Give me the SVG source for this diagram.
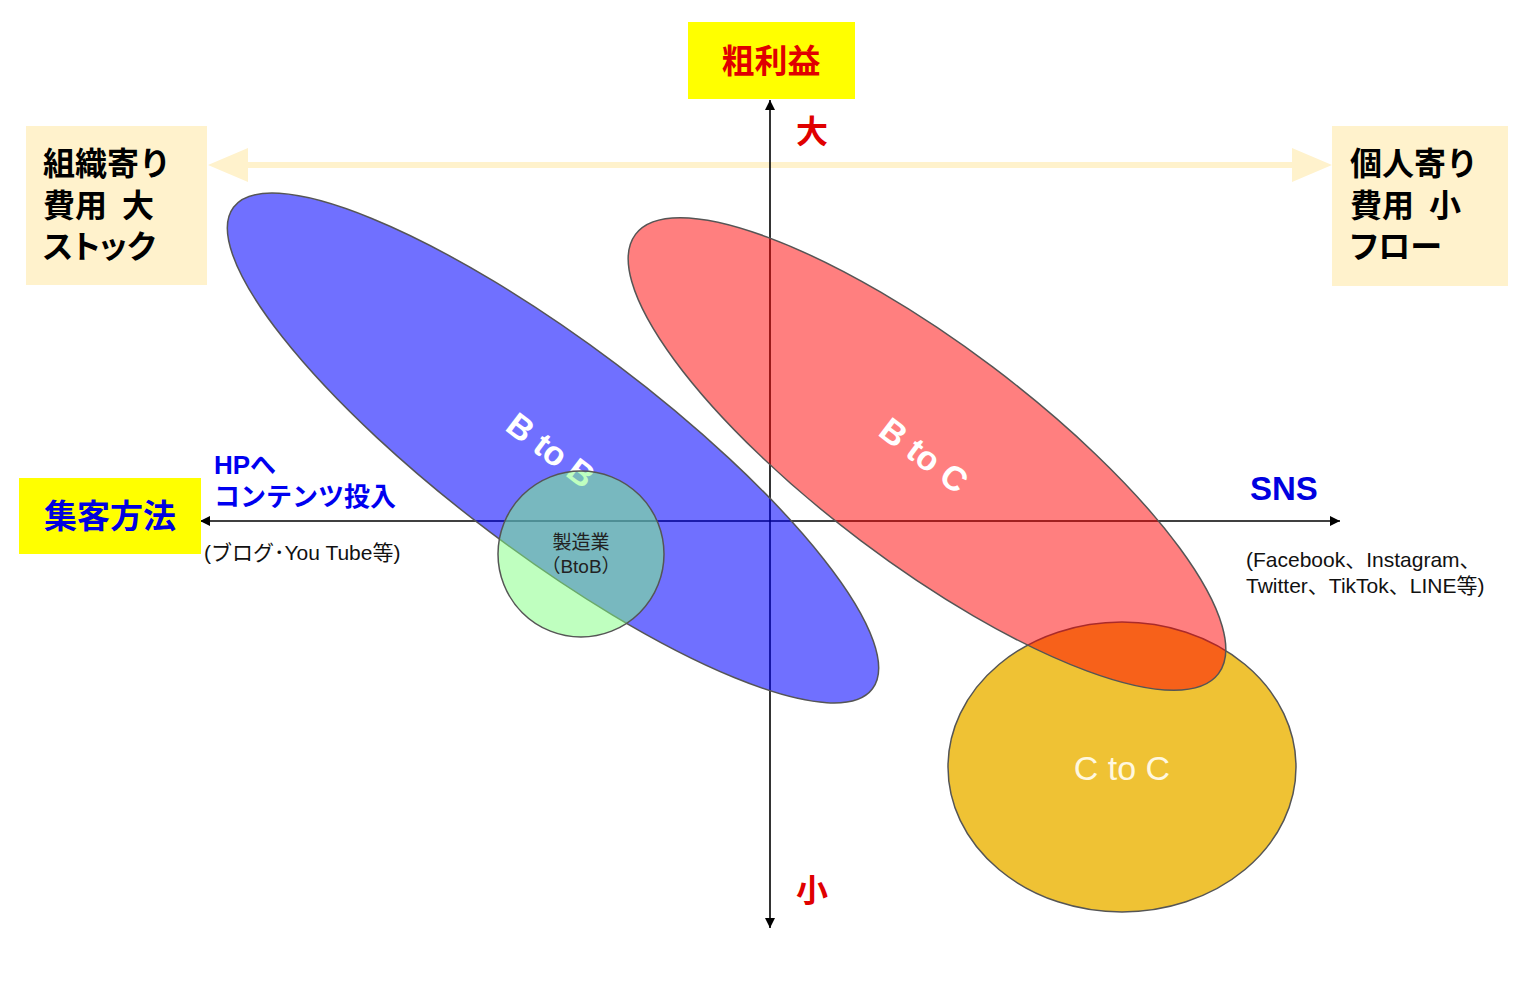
<svg xmlns="http://www.w3.org/2000/svg" width="1536" height="993" viewBox="0 0 1536 993">
<defs>
<style>
.jp{font-family:"Liberation Sans","Noto Sans CJK JP",sans-serif;}
.b{font-weight:bold;}
.axis{stroke:#000;stroke-width:1.6;fill:none;}
.shape{stroke:#555;stroke-width:1.5;}
.note{font-size:21px;fill:#111;}
.lbl{font-size:32px;font-weight:bold;fill:#000;}
.palt{font-feature-settings:"palt";}
.rot{font-size:34px;font-weight:bold;fill:#fff;text-anchor:middle;}
</style>
<marker id="ah" viewBox="0 0 10 10" refX="10" refY="5" markerWidth="10" markerHeight="10" markerUnits="userSpaceOnUse" orient="auto-start-reverse">
<path d="M0,0 L10,5 L0,10 Z" fill="#000"/>
</marker>
</defs>
<rect width="1536" height="993" fill="#fff"/>

<g id="connectors">
<polygon id="cream-arrow" fill="#FFF2CC" points="208,165 248,148 248,162 1292,162 1292,148 1332,165 1292,182 1292,168 248,168 248,182"/>
<line id="v-axis" class="axis" x1="770" y1="928" x2="770" y2="100" marker-end="url(#ah)" marker-start="url(#ah)"/>
<line id="h-axis" class="axis" x1="200" y1="521" x2="1340" y2="521" marker-end="url(#ah)" marker-start="url(#ah)"/>
</g>

<g id="ctoc">
<ellipse class="shape" cx="1122" cy="767" rx="174" ry="145" fill="#EFC234"/>
<text class="jp" x="1122" y="780" font-size="34" fill="#FFF8E0" text-anchor="middle">C to C</text>
</g>

<g id="btob">
<ellipse class="shape" cx="553" cy="448" rx="400" ry="105" transform="rotate(37 553 448)" fill="#0000FF" fill-opacity="0.56"/>
<text class="jp rot" transform="translate(551,450) rotate(37)" x="0" y="12">B to B</text>
</g>

<g id="btoc">
<ellipse class="shape" cx="927" cy="454" rx="365" ry="109" transform="rotate(37 927 454)" fill="#FF0000" fill-opacity="0.5"/>
<text class="jp rot" transform="translate(924,455) rotate(37)" x="0" y="12">B to C</text>
</g>

<g id="manufacturing">
<circle class="shape" cx="581" cy="554" r="83" fill="#80FF80" fill-opacity="0.5"/>
<text class="jp" x="581" y="549" font-size="19" fill="#222" text-anchor="middle">製造業</text>
<text class="jp" x="581" y="573" font-size="19" fill="#222" text-anchor="middle">（BtoB）</text>
</g>

<g id="gross-profit">
<rect x="688" y="22" width="167" height="77" fill="#FFFF00"/>
<text class="jp b" x="771" y="73" font-size="33" fill="#E00000" text-anchor="middle">粗利益</text>
</g>
<g id="label-large">
<text class="jp b" x="812" y="143" font-size="32" fill="#E00000" text-anchor="middle">大</text>
</g>
<g id="label-small">
<text class="jp b" x="812" y="902" font-size="32" fill="#E00000" text-anchor="middle">小</text>
</g>

<g id="org-box">
<rect x="26" y="126" width="181" height="159" fill="#FFF2CC"/>
<text class="jp lbl" x="43" y="175">組織寄り</text>
<text class="jp lbl" x="43" y="217">費用<tspan dx="15">大</tspan></text>
<text class="jp lbl palt" x="43" y="258">ストック</text>
</g>

<g id="person-box">
<rect x="1332" y="126" width="176" height="160" fill="#FFF2CC"/>
<text class="jp lbl" x="1350" y="175">個人寄り</text>
<text class="jp lbl" x="1350" y="217">費用<tspan dx="15">小</tspan></text>
<text class="jp lbl palt" x="1350" y="258">フロー</text>
</g>

<g id="attract-box">
<rect x="19" y="478" width="182" height="76" fill="#FFFF00"/>
<text class="jp b" x="110" y="528" font-size="33" fill="#0000E0" text-anchor="middle">集客方法</text>
</g>

<g id="hp-label">
<text class="jp b" x="214" y="474" font-size="26" fill="#0000F0">HPへ</text>
<text class="jp b" x="214" y="506" font-size="26" fill="#0000F0">コンテンツ投入</text>
<text class="jp note" x="204" y="560">(ブログ･You Tube等)</text>
</g>

<g id="sns-label">
<text class="jp b" x="1250" y="500" font-size="33" fill="#0000E0">SNS</text>
<text class="jp note" x="1246" y="567">(Facebook、Instagram、</text>
<text class="jp note" x="1246" y="593">Twitter、TikTok、LINE等)</text>
</g>
</svg>
